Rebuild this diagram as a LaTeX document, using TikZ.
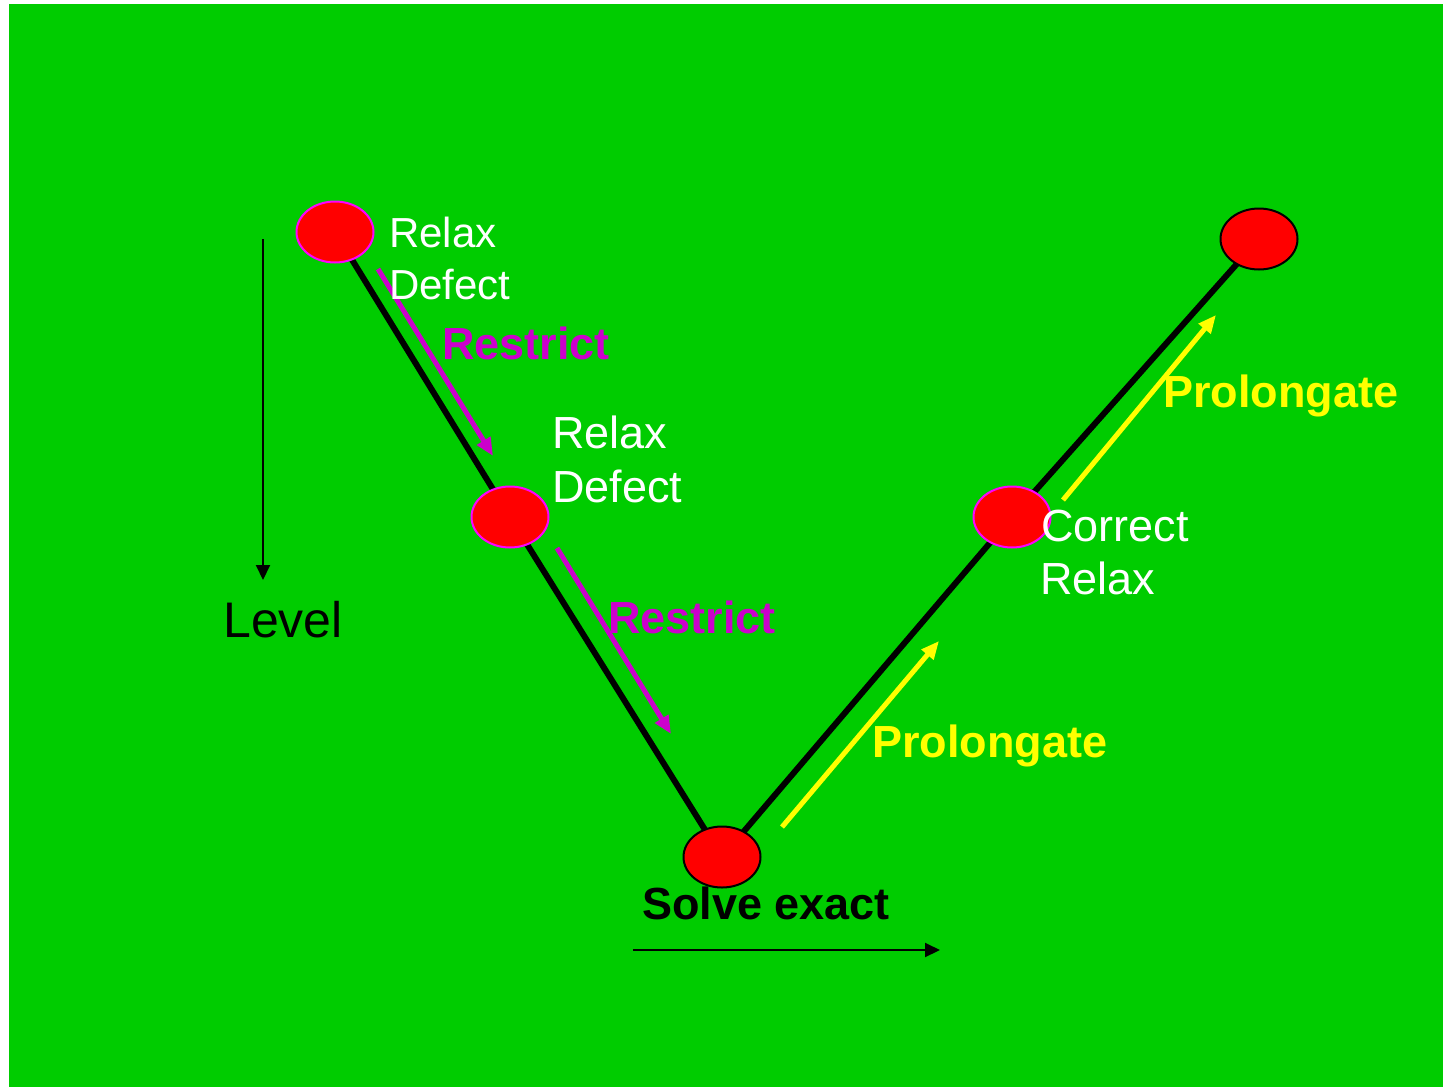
\documentclass[tikz,border=0pt]{standalone}
\usepackage{fontspec}
\setmainfont{Liberation Sans}
\usetikzlibrary{arrows.meta,shapes.geometric}
\definecolor{bg}{HTML}{00CC00}
\definecolor{mag}{HTML}{CC00CC}
\definecolor{magb}{HTML}{FF00FF}
\definecolor{yel}{HTML}{FFFF00}
\begin{document}
\begin{tikzpicture}[x=1pt,y=-1pt,
  vnode/.style={ellipse,draw=#1,line width=2pt,fill=red,minimum width=77pt,minimum height=61pt,inner sep=0pt},
  lab/.style={anchor=base west,inner sep=0pt,text=white,font=\fontsize{42}{50}\selectfont},
  labb/.style={anchor=base west,inner sep=0pt,text=white,font=\fontsize{45}{52}\selectfont},
  blab/.style={anchor=base west,inner sep=0pt,font=\fontsize{45}{52}\selectfont\bfseries},
  vline/.style={line width=6pt,black},
  magarrow/.style={line width=5pt,mag,-{Triangle[length=18pt,width=15pt]}},
  yelarrow/.style={line width=5pt,yel,-{Triangle[length=18pt,width=15pt]}},
  axarrow/.style={line width=2pt,black,-{Triangle[length=15pt,width=14pt]}}
]
\useasboundingbox (0,0) rectangle (1443,1087);
\fill[white] (0,0) rectangle (1443,1087);
\fill[bg] (9,4) rectangle (1443,1087);
% node positions
\coordinate (c1) at (335,232);
\coordinate (c2) at (510,517);
\coordinate (c3) at (722,857);
\coordinate (c4) at (1012,517);
\coordinate (c5) at (1259,239);
\draw[vline] (c1) -- (c2) -- (c3) -- (c4) -- (c5);
\node[vnode=magb] (n1) at (c1) {};
\node[vnode=magb] (n2) at (c2) {};
\node[vnode=black] (n3) at (c3) {};
\node[vnode=magb] (n4) at (c4) {};
\node[vnode=black] (n5) at (c5) {};
% arrows
\coordinate (m1s) at (378,269); \coordinate (m1e) at (493,456);
\coordinate (m2s) at (557,548); \coordinate (m2e) at (671,734);
\coordinate (y1s) at (782,827); \coordinate (y1e) at (939,641);
\coordinate (y2s) at (1063,500); \coordinate (y2e) at (1216,315);
\draw[magarrow] (m1s) -- (m1e);
\draw[magarrow] (m2s) -- (m2e);
\draw[yelarrow] (y1s) -- (y1e);
\draw[yelarrow] (y2s) -- (y2e);
\coordinate (v1) at (263,239); \coordinate (v2) at (263,580);
\coordinate (h1) at (633,950); \coordinate (h2) at (940,950);
\draw[axarrow] (v1) -- (v2);
\draw[axarrow] (h1) -- (h2);
% labels
\node[lab] (t1) at (389,247) {Relax};
\node[lab] (t2) at (389,299) {Defect};
\node[blab,text=mag] (t3) at (442,359) {Restrict};
\node[labb] (t4) at (552,448) {Relax};
\node[labb] (t5) at (552,502) {Defect};
\node[blab,text=mag] (t6) at (608,633) {Restrict};
\node[lab,text=black,font=\fontsize{50}{56}\selectfont] (t7) at (223,637) {Level};
\node[labb] (t8) at (1041,541) {Correct};
\node[labb] (t9) at (1040,594) {Relax};
\node[blab,text=yel] (t10) at (872,757) {Prolongate};
\node[blab,text=yel] (t11) at (1163,407) {Prolongate};
\node[blab,text=black] (t12) at (642,919) {Solve exact};
\end{tikzpicture}
\end{document}
